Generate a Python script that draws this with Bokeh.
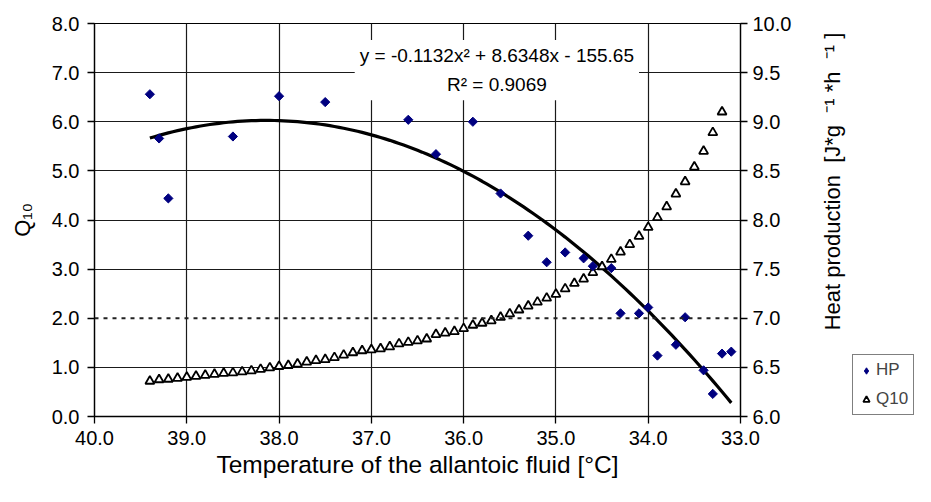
import math
from bokeh.plotting import figure
from bokeh.layouts import row
from bokeh.models import (Range1d, LinearAxis, FixedTicker, NumeralTickFormatter,
                          Span, Label, Legend, LegendItem)
from bokeh.embed import file_html
from bokeh.resources import INLINE

# ---- data ----
hp_temp = [39.4, 39.3, 39.2, 38.5, 38.0, 37.5, 36.6, 35.9, 36.3, 35.6, 35.3, 35.1, 34.9,
           34.7, 34.6, 34.4, 34.3, 34.1, 34.0, 33.9, 33.7, 33.6, 33.4, 33.3, 33.2, 33.1]
hp_value = [9.28, 8.83, 8.22, 8.85, 9.26, 9.20, 9.02, 9.00, 8.67, 8.27, 7.84, 7.57, 7.67,
            7.61, 7.53, 7.51, 7.05, 7.05, 7.11, 6.62, 6.73, 7.01, 6.47, 6.23, 6.64, 6.66]

q10_temp = [39.4, 39.3, 39.2, 39.1, 39.0, 38.9, 38.8, 38.7, 38.6, 38.5, 38.4, 38.3, 38.2,
            38.1, 38.0, 37.9, 37.8, 37.7, 37.6, 37.5, 37.4, 37.3, 37.2, 37.1, 37.0, 36.9,
            36.8, 36.7, 36.6, 36.5, 36.4, 36.3, 36.2, 36.1, 36.0, 35.9, 35.8, 35.7, 35.6,
            35.5, 35.4, 35.3, 35.2, 35.1, 35.0, 34.9, 34.8, 34.7, 34.6, 34.5, 34.4, 34.3,
            34.2, 34.1, 34.0, 33.9, 33.8, 33.7, 33.6, 33.5, 33.4, 33.3, 33.2]
q10_value = [0.72, 0.75, 0.76, 0.78, 0.80, 0.82, 0.84, 0.86, 0.88, 0.89, 0.91, 0.93, 0.96,
             0.99, 1.02, 1.04, 1.07, 1.11, 1.14, 1.16, 1.20, 1.25, 1.30, 1.34, 1.36, 1.38,
             1.42, 1.48, 1.51, 1.54, 1.58, 1.67, 1.70, 1.73, 1.79, 1.86, 1.90, 1.95, 2.02,
             2.09, 2.17, 2.25, 2.33, 2.41, 2.49, 2.60, 2.71, 2.80, 2.93, 3.05, 3.20, 3.35,
             3.50, 3.67, 3.85, 4.05, 4.27, 4.53, 4.78, 5.08, 5.40, 5.78, 6.20]

# trendline printed on the chart: y = -0.1132x^2 + 8.6348x - 155.65 (fit of HP)
trend_a, trend_b, trend_c = -0.1132, 8.6348, -155.65
trend_temp = [39.4 - 0.05 * i for i in range(127)]
trend_value = [trend_a * t * t + trend_b * t + trend_c for t in trend_temp]

x_ticks = [40, 39, 38, 37, 36, 35, 34, 33]
q10_ticks = [0, 1, 2, 3, 4, 5, 6, 7, 8]
hp_ticks = [6.0, 6.5, 7.0, 7.5, 8.0, 8.5, 9.0, 9.5, 10.0]
threshold_q10 = 2.0

FONT = "Liberation Sans"
NB = "\u00a0"
HP_LABEL = ("Heat production" + NB * 2 + "[J*g" + NB * 2 + "⁻¹" + NB + "*h" + NB * 2
            + "⁻¹" + NB + "]")

p = figure(frame_width=646, frame_height=393, output_backend="svg", toolbar_location=None,
           x_range=Range1d(40, 33), y_range=Range1d(0, 8),
           min_border_left=94, min_border_right=60, min_border_top=23, min_border_bottom=70)
p.extra_y_ranges = {"hp": Range1d(6, 10)}
p.background_fill_color = "white"
p.border_fill_color = "white"
p.outline_line_color = "black"
p.outline_line_width = 1.2

p.xaxis.ticker = FixedTicker(ticks=x_ticks)
p.yaxis.ticker = FixedTicker(ticks=q10_ticks)
p.xaxis.formatter = NumeralTickFormatter(format="0.0")
p.yaxis.formatter = NumeralTickFormatter(format="0.0")
p.xaxis.axis_label = "Temperature of the allantoic fluid [°C]"
p.yaxis.axis_label = "Q₁₀"

right = LinearAxis(y_range_name="hp", ticker=FixedTicker(ticks=hp_ticks),
                   formatter=NumeralTickFormatter(format="0.0"))
p.add_layout(right, "right")

for ax in [p.xaxis[0], p.yaxis[0], right]:
    ax.major_label_text_font = FONT
    ax.major_label_text_font_size = "20px"
    ax.major_label_text_color = "black"
    ax.axis_label_text_font = FONT
    ax.axis_label_text_font_size = "22px"
    ax.axis_label_text_font_style = "normal"
    ax.axis_label_text_color = "black"
    ax.axis_line_color = "black"
    ax.axis_line_width = 1.3
    ax.major_tick_line_color = "black"
    ax.major_tick_line_width = 1.3
    ax.major_tick_out = 7
    ax.major_tick_in = 0
    ax.minor_tick_line_color = None

p.xaxis.axis_label_text_font_size = "24.5px"
p.xaxis.major_label_standoff = 7
p.xaxis.axis_label_standoff = 3
p.yaxis.major_label_standoff = 8
p.yaxis.axis_label_standoff = 14
right.major_label_standoff = 5

p.xgrid.ticker = FixedTicker(ticks=x_ticks)
p.ygrid.ticker = FixedTicker(ticks=[t for t in q10_ticks if t != threshold_q10])
p.grid.grid_line_color = "#1a1a1a"
p.grid.grid_line_width = 1.2

p.add_layout(Span(location=threshold_q10, dimension="width", line_color="#222222",
                  line_width=2, line_dash="4 5"))

p.line(trend_temp, trend_value, y_range_name="hp", line_color="black", line_width=3.2)

Q10_STYLE = dict(marker="triangle", size=9, fill_color="white", line_color="black", line_width=1.8)
HP_STYLE = dict(marker="square", angle=math.pi / 4, size=6.5, fill_color="#000080",
                line_color="#000080")

p.scatter(q10_temp, q10_value, **Q10_STYLE)
p.scatter(hp_temp, hp_value, y_range_name="hp", **HP_STYLE)

p.add_layout(Label(x=35.64, y=7.05, text="y = -0.1132x² + 8.6348x - 155.65\nR² = 0.9069",
                   text_align="center", text_baseline="middle", text_font=FONT,
                   text_font_size="19px", text_line_height=1.4, text_color="black",
                   background_fill_color="white", padding=5))

# ---- side panel: right axis title (reading upwards) and legend ----
# its frame is aligned with the main frame (y from 23 to 416 in page pixels)
side = figure(width=115, height=486, output_backend="svg", toolbar_location=None,
              x_axis_type=None, y_axis_type=None, min_border=0,
              x_range=Range1d(0, 1), y_range=Range1d(0, 1))
side.outline_line_color = None
side.background_fill_color = "white"
side.border_fill_color = "white"

side.add_layout(Label(x=32, y=235, x_units="screen", y_units="screen", angle=math.pi / 2,
                      text=HP_LABEL, text_align="center", text_baseline="middle",
                      text_font=FONT, text_font_size="22px", text_color="black"))

# legend entries reuse the series (drawn outside this panel's ranges, so only the key shows)
hp_key = side.scatter(hp_temp, hp_value, marker="diamond", size=9, fill_color="#000080",
                      line_color="#000080")
q10_key = side.scatter(q10_temp, q10_value, **Q10_STYLE)

legend = Legend(items=[LegendItem(label="HP", renderers=[hp_key]),
                       LegendItem(label="Q10", renderers=[q10_key])],
                location=(52, 1), border_line_color="black", border_line_width=1,
                label_text_font=FONT, label_text_font_size="17px",
                glyph_width=16, glyph_height=17, label_height=17, label_standoff=2,
                spacing=9, padding=5, margin=0, background_fill_color="white")
side.add_layout(legend, "center")

layout = row(p, side, spacing=0)
open("out.html", "w").write(file_html(layout, INLINE))
